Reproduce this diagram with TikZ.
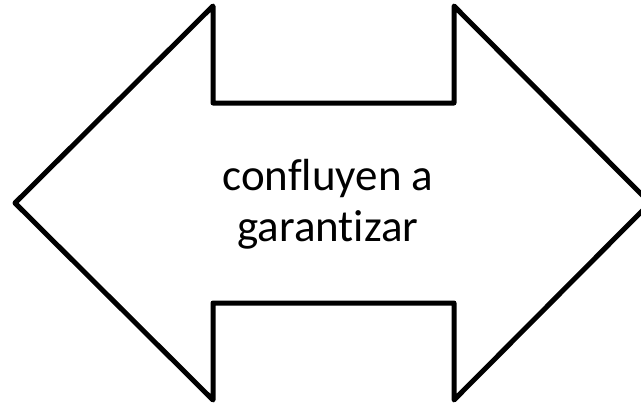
\documentclass[tikz,border=0pt]{standalone}
\usepackage{fontspec}
\setmainfont{Carlito}[Ligatures=NoCommon]

\tikzset{
  arrowline/.style={line width=5pt, line join=round},
  midtext/.style={align=center, font=\fontsize{45}{51}\selectfont}
}

\begin{document}
\begin{tikzpicture}[x=1pt,y=-1pt]
       \useasboundingbox (0,0) rectangle (641,405);
       \clip (0,0) rectangle (641,405);

       % double arrow outline
       \draw[arrowline] (15,203) -- (213,6) -- (213,103) -- (454,103) -- (454,6)
             -- (650,203) -- (454,400) -- (454,303) -- (213,303) -- (213,400) -- cycle;

       \node(T)[midtext] at (328,204) {confluyen a\\garantizar};
\end{tikzpicture}
\end{document}
